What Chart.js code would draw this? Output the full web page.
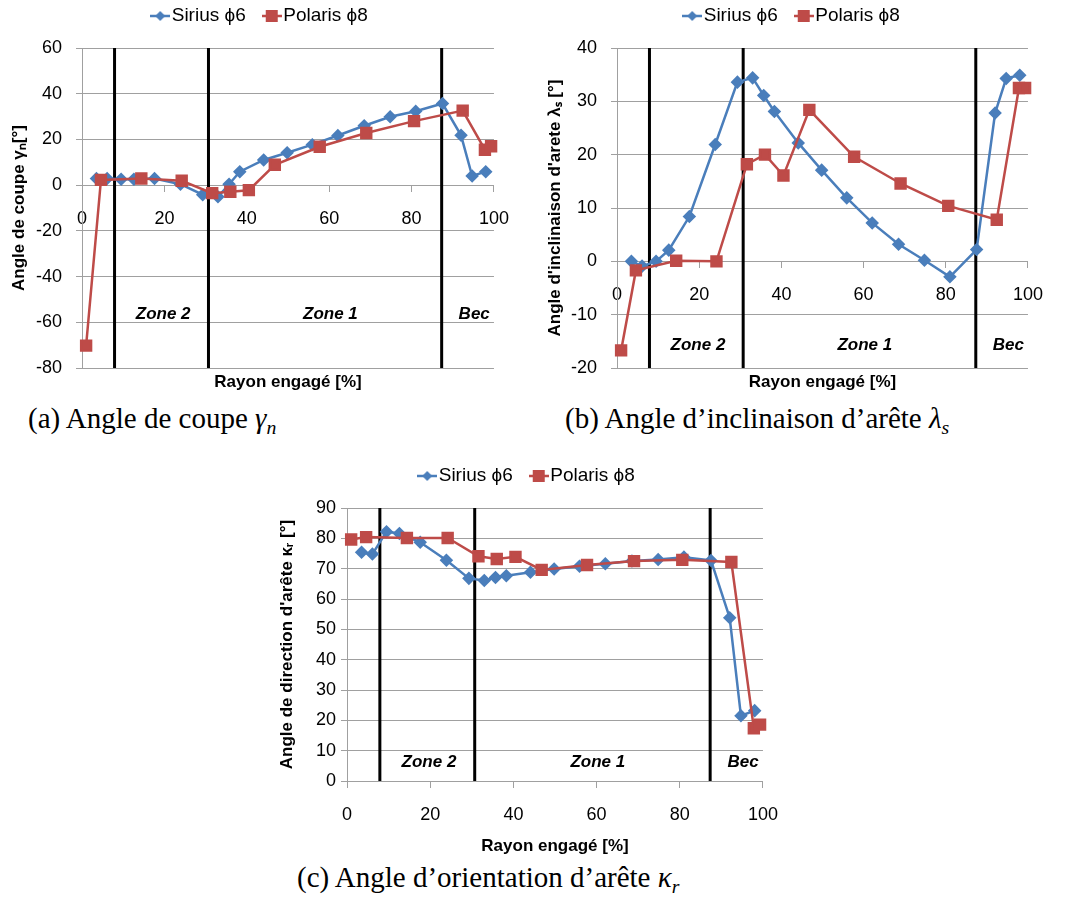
<!DOCTYPE html>
<html>
<head>
<meta charset="utf-8">
<script src="https://cdn.jsdelivr.net/npm/chart.js@4/dist/chart.umd.min.js"></script>
<style>
  body { margin: 0; background: #fff; width: 1070px; height: 902px; position: relative; overflow: hidden; }
  canvas { position: absolute; }
  .cap { position: absolute; font-family: 'Liberation Serif', 'DejaVu Serif', serif; font-size: 29px; line-height: 29px; color: #000; white-space: nowrap; }
  .cap sub { font-size: 0.68em; vertical-align: -0.3em; }
</style>
</head>
<body>
<canvas id="chartA" width="526" height="400" style="left:0px;top:0px"></canvas>
<canvas id="chartB" width="530" height="400" style="left:530px;top:0px"></canvas>
<canvas id="chartC" width="530" height="400" style="left:265px;top:460px"></canvas>
<div class="cap" style="left:28px;top:404px">(a) Angle de coupe <i>γ</i><sub><i>n</i></sub></div>
<div class="cap" style="left:565px;top:404px">(b) Angle d’inclinaison d’arête <i>λ</i><sub><i>s</i></sub></div>
<div class="cap" style="left:297px;top:863px">(c) Angle d’orientation d’arête <i>κ</i><sub><i>r</i></sub></div>

<script>
// rayon engagé [%] for both tools
var xSirius = [3.5, 6.1, 9.5, 12.6, 17.6, 23.9, 29.3, 33.0, 35.7, 38.3, 44.1, 49.8, 55.9, 62.1, 68.5, 74.8, 81.0, 87.5, 92.0, 94.7, 98.0];
var xPolaris = [1.0, 4.6, 14.4, 24.2, 31.6, 36.0, 40.5, 46.8, 57.7, 69.0, 80.6, 92.4, 97.8, 99.3];

// (a) angle de coupe
var gammaSirius = [2.9, 2.9, 2.6, 2.6, 2.9, 0.4, -4.2, -5.1, 0.4, 5.9, 11.0, 14.2, 17.7, 21.7, 26.0, 29.9, 32.3, 35.7, 21.8, 4.0, 5.9];
var gammaPolaris = [-70.2, 2.3, 2.9, 1.9, -3.5, -2.9, -2.2, 8.9, 16.8, 22.8, 28.0, 32.6, 15.5, 17.0];
// (b) angle d'inclinaison
var lambdaSirius = [0.0, -0.9, 0.0, 2.1, 8.4, 21.9, 33.6, 34.4, 31.1, 28.1, 22.2, 17.1, 11.9, 7.2, 3.2, 0.2, -2.9, 2.2, 27.8, 34.3, 34.9];
var lambdaPolaris = [-16.7, -1.7, 0.1, 0.0, 18.2, 20.0, 16.1, 28.4, 19.6, 14.6, 10.4, 7.8, 32.5, 32.5];
// (c) angle de direction
var kappaSirius = [75.4, 74.8, 82.2, 81.6, 78.7, 72.8, 66.8, 66.1, 67.1, 67.7, 68.8, 69.9, 70.8, 71.6, 72.5, 73.0, 73.8, 72.7, 53.8, 21.5, 23.2];
var kappaPolaris = [79.6, 80.4, 80.1, 80.1, 74.1, 73.2, 73.9, 69.6, 71.2, 72.5, 72.9, 72.2, 17.4, 18.6];

var seriesNames = ['Sirius ϕ6', 'Polaris ϕ8'];
var zoneBounds = [7.9, 30.7, 87.3];
var zoneNames = ['Zone 2', 'Zone 1', 'Bec'];
var zoneLabelX = [19.7, 60.3, 95.2];
var xTicks = [0, 20, 40, 60, 80, 100];

var FONT = "'Liberation Sans', Arial, sans-serif";
var blue = '#4a7ebb';
var red = '#be4b48';
var gridColor = '#a0a0a0';

function pairs(xs, ys) {
  return xs.map(function (x, i) { return { x: x, y: ys[i] }; });
}

// little line + marker picture for the legend, like excel does
function legendIcon(color, shape) {
  var c = document.createElement('canvas');
  c.width = 20; c.height = 14;
  var g = c.getContext('2d');
  g.strokeStyle = color; g.lineWidth = 2.5;
  g.beginPath(); g.moveTo(0, 7); g.lineTo(20, 7); g.stroke();
  g.fillStyle = color;
  if (shape == 'diamond') {
    g.beginPath(); g.moveTo(10, 2); g.lineTo(15, 7); g.lineTo(10, 12); g.lineTo(5, 7); g.closePath(); g.fill();
  } else {
    g.fillRect(4, 1, 12, 12);
  }
  return c;
}
var icons = [legendIcon(blue, 'diamond'), legendIcon(red, 'square')];

var zoneText = {
  id: 'zoneText',
  afterDatasetsDraw: function (chart, args, o) {
    var ctx = chart.ctx, x = chart.scales.x, y = chart.scales.y;
    ctx.save();
    ctx.font = 'italic bold 17px ' + FONT;
    ctx.fillStyle = '#000';
    ctx.textAlign = 'center';
    ctx.textBaseline = 'middle';
    zoneNames.forEach(function (n, i) {
      ctx.fillText(n, x.getPixelForValue(zoneLabelX[i]), y.getPixelForValue(o.labelY));
    });
    ctx.restore();
  }
};

function makeChart(id, opt) {
  var legendFix = {
    id: 'legendFix',
    beforeInit: function (chart) {
      var fit = chart.legend.fit;
      chart.legend.fit = function () {
        fit.bind(chart.legend)();
        this.height = 65.5;
      };
    }
  };

  var zoneSets = zoneBounds.map(function (b) {
    return {
      label: '', data: [{ x: b, y: opt.yMin }, { x: b, y: opt.yMax }],
      borderColor: '#000', borderWidth: 3, pointRadius: 0, pointHoverRadius: 0, order: 3
    };
  });

  return new Chart(document.getElementById(id), {
    type: 'line',
    data: {
      datasets: [{
        label: seriesNames[0],
        data: pairs(xSirius, opt.sirius),
        borderColor: blue, backgroundColor: blue, borderWidth: 2.5,
        pointStyle: 'rectRot', pointRadius: 5, pointHoverRadius: 5,
        order: 2, clip: 12
      }, {
        label: seriesNames[1],
        data: pairs(xPolaris, opt.polaris),
        borderColor: red, backgroundColor: red, borderWidth: 2.5,
        pointStyle: 'rect', pointRadius: 7, pointHoverRadius: 7,
        order: 1, clip: 12
      }].concat(zoneSets)
    },
    options: {
      responsive: false,
      animation: false,
      layout: { padding: { left: 0, right: 0, top: -17.5, bottom: 0 } },
      plugins: {
        legend: {
          position: 'top',
          labels: {
            usePointStyle: true, pointStyleWidth: 4, padding: 24,
            color: '#000', font: { size: 19, family: FONT },
            generateLabels: function (chart) {
              return chart.data.datasets.slice(0, 2).map(function (ds, i) {
                return { text: ds.label, fillStyle: ds.borderColor, strokeStyle: ds.borderColor, lineWidth: 0,
                         pointStyle: icons[i], hidden: false, datasetIndex: i, fontColor: '#000' };
              });
            }
          }
        },
        tooltip: { enabled: false },
        zoneText: { labelY: opt.labelY }
      },
      scales: {
        x: {
          type: 'linear', min: 0, max: 100, position: { y: 0 },
          afterBuildTicks: function (s) { s.ticks = xTicks.map(function (v) { return { value: v }; }); },
          ticks: { padding: 17, color: '#000', font: { size: 18, family: FONT }, maxRotation: 0, autoSkip: false },
          grid: { drawOnChartArea: false, drawTicks: true, tickLength: 6, color: gridColor },
          border: { color: gridColor },
          afterFit: function (s) { s.height = 0; }
        },
        xTitle: {
          type: 'linear', position: 'bottom', min: 0, max: 1,
          ticks: { display: false }, grid: { display: false }, border: { display: false },
          title: { display: true, text: 'Rayon engagé [%]', color: '#000',
                   font: { size: 17, weight: 'bold', family: FONT }, padding: { top: 0, bottom: opt.xTitlePad } },
          afterFit: function (s) { s.height = opt.bottomSpace; }
        },
        y: {
          type: 'linear', position: 'left', min: opt.yMin, max: opt.yMax,
          ticks: { stepSize: opt.yStep, padding: opt.yTickPad, color: '#000', font: { size: 18, family: FONT } },
          grid: { color: gridColor, tickLength: 6 },
          border: { color: gridColor },
          title: { display: true, text: opt.yTitle, color: '#000',
                   font: { size: 17, weight: 'bold', family: FONT }, padding: { top: opt.yTitlePad, bottom: 0 } },
          afterFit: function (s) { s.width = opt.yWidth; }
        },
        yRight: {
          type: 'linear', position: 'right', min: 0, max: 1,
          ticks: { display: false }, grid: { display: false }, border: { display: false },
          afterFit: function (s) { s.width = opt.rightSpace; }
        }
      }
    },
    plugins: [legendFix, zoneText]
  });
}

makeChart('chartA', {
  sirius: gammaSirius, polaris: gammaPolaris,
  yMin: -80, yMax: 60, yStep: 20, labelY: -56.4,
  yTitle: 'Angle de coupe γₙ[°]', yTitlePad: 8.8, yTickPad: 14,
  yWidth: 82, rightSpace: 19, bottomSpace: 32, xTitlePad: 7.4
});

makeChart('chartB', {
  sirius: lambdaSirius, polaris: lambdaPolaris,
  yMin: -20, yMax: 40, yStep: 10, labelY: -15.75,
  yTitle: "Angle d'inclinaison d'arete λₛ [°]", yTitlePad: 14.8, yTickPad: 14,
  yWidth: 87, rightSpace: 27, bottomSpace: 32, xTitlePad: 7
});

makeChart('chartC', {
  sirius: kappaSirius, polaris: kappaPolaris,
  yMin: 0, yMax: 90, yStep: 10, labelY: 6.3,
  yTitle: "Angle de direction d'arête κᵣ [°]", yTitlePad: 11.8, yTickPad: 5,
  yWidth: 82, rightSpace: 20, bottomSpace: 79, xTitlePad: 3.4
});
</script>
</body>
</html>
